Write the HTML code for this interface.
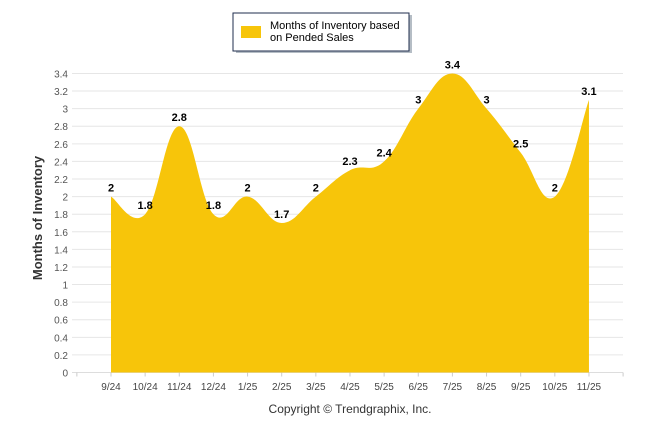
<!DOCTYPE html>
<html><head><meta charset="utf-8"><style>
body{margin:0;background:#fff;width:646px;height:434px;overflow:hidden;font-family:"Liberation Sans",Arial,sans-serif}
</style></head><body>
<svg id="s" width="646" height="434" xmlns="http://www.w3.org/2000/svg" font-family="Liberation Sans, Arial, sans-serif">
<rect x="236" y="15" width="176" height="38" fill="#6b7b8c" opacity="0.5"/>
<rect x="233" y="13" width="176" height="38" fill="#fff" stroke="#1f2d4d" stroke-width="1"/>
<rect x="241" y="26" width="20" height="12" fill="#f7c50a"/>
<text x="270" y="29" font-size="11" fill="#000">Months of Inventory based</text>
<text x="270" y="41" font-size="11" fill="#000">on Pended Sales</text>
<text transform="translate(42,218) rotate(-90)" text-anchor="middle" font-size="13" font-weight="bold" fill="#333">Months of Inventory</text>
<text x="350" y="413" text-anchor="middle" font-size="12" fill="#333">Copyright © Trendgraphix, Inc.</text>
<g id="g"></g>
</svg>
<script>
var g=document.getElementById('g'),ns='http://www.w3.org/2000/svg',h='';
var y0=372.5,k=87.95,x0=111,dx=34.14;
for(var i=0;i<=17;i++){var v=i*0.2,y=y0-v*k;
h+='<line x1="72" x2="623" y1="'+y+'" y2="'+y+'" stroke="#e6e6e6"/>';
h+='<text x="68" y="'+(y+4)+'" text-anchor="end" font-size="10" fill="#555">'+(+v.toFixed(1))+'</text>';}
var vals=[2,1.8,2.8,1.8,2,1.7,2,2.3,2.4,3,3.4,3,2.5,2,3.1];
var labs=['9/24','10/24','11/24','12/24','1/25','2/25','3/25','4/25','5/25','6/25','7/25','8/25','9/25','10/25','11/25'];
var P=vals.map(function(v,i){return[x0+dx*i,y0-v*k]});
h+='<line x1="72" x2="623" y1="'+y0+'" y2="'+y0+'" stroke="#ddd"/>';
for(var i=-1;i<=15;i++){var x=x0+dx*i;h+='<line x1="'+x+'" x2="'+x+'" y1="'+y0+'" y2="'+(y0+4)+'" stroke="#ccc"/>';}
var d='M'+P[0][0]+','+y0+'L'+P[0][0]+','+P[0][1];
for(var i=0;i<P.length-1;i++){var a=P[Math.max(i-1,0)],b=P[i],c=P[i+1],e=P[Math.min(i+2,P.length-1)];
var t=0.2;d+='C'+(b[0]+(c[0]-a[0])*t)+','+(b[1]+(c[1]-a[1])*t)+' '+(c[0]-(e[0]-b[0])*t)+','+(c[1]-(e[1]-b[1])*t)+' '+c[0]+','+c[1];}
d+='L'+P[P.length-1][0]+','+y0+'Z';
h+='<path d="'+d+'" fill="#f7c50a"/>';
labs.forEach(function(l,i){h+='<text x="'+P[i][0]+'" y="390" text-anchor="middle" font-size="10" fill="#444">'+l+'</text>';});
vals.forEach(function(v,i){h+='<text x="'+P[i][0]+'" y="'+(P[i][1]-5)+'" text-anchor="middle" font-size="11" font-weight="bold" fill="#000">'+v+'</text>';});
g.innerHTML=h;
</script>
</body></html>
